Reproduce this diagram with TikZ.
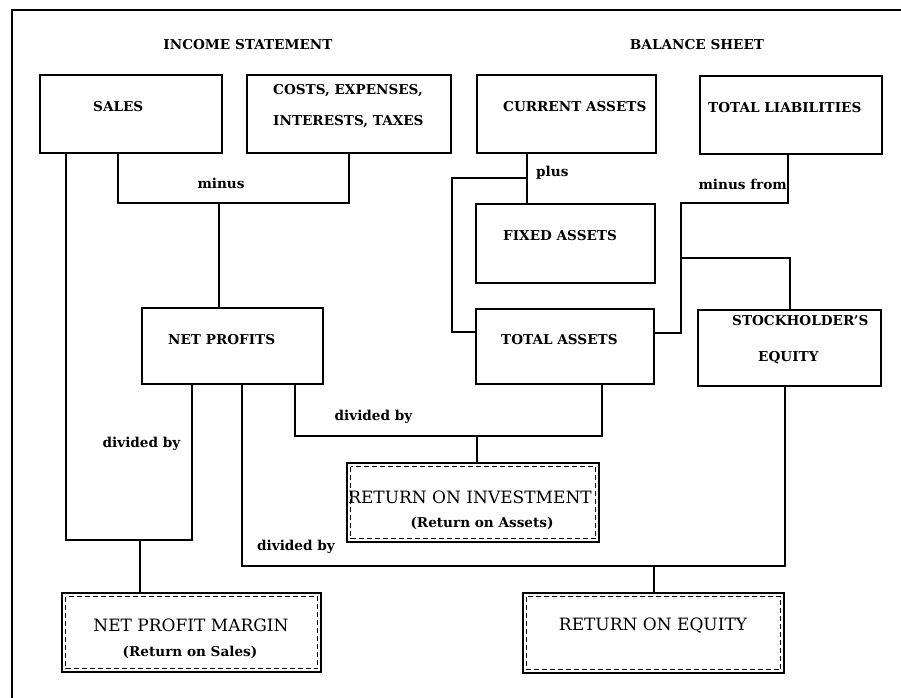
\documentclass[tikz,border=0pt]{standalone}
\usepackage{fontspec}
\setmainfont{DejaVu Serif}
\usetikzlibrary{positioning}

\begin{document}
\begin{tikzpicture}[x=1pt, y=-1pt,
        box/.style={draw, line width=1.5pt, inner sep=0pt},
        result/.style={draw, line width=2.5pt, inner sep=0pt, path picture={\draw[line width=1.2pt, dash pattern=on 5pt off 3pt] ([shift={(3.5pt,-3.5pt)}]path picture bounding box.north west) rectangle ([shift={(-3.5pt,3.5pt)}]path picture bounding box.south east);}},
        lbl/.style={inner sep=0pt, font=\bfseries\fontsize{13.6}{16}\selectfont},
        title/.style={inner sep=0pt, font=\fontsize{17}{19}\selectfont},
        conn/.style={line width=2pt}
    ]
    \useasboundingbox (0,0) rectangle (901,697);
    \clip (0,0) rectangle (901,697);
    \draw[line width=2.5pt] (12,710) |- (915,10);

    % headings
    \node[lbl] (incomeT) at (248,45) {INCOME STATEMENT};
    \node[lbl] (balanceT) at (697,45) {BALANCE SHEET};

    % income statement
    \node[box, minimum width=182, minimum height=78] (sales) at (131,114) {};
    \node[box, minimum width=204, minimum height=78] (costs) at (349,114) {};
    \node[box, minimum width=181, minimum height=76] (np) at (232.5,346) {};
    \node[lbl, anchor=west] (salesT) at (93,107) {SALES};
    \node[lbl, anchor=west] (costsT) at (273,91) {COSTS, EXPENSES,};
    \node[lbl, anchor=west] (costsT2) at (273,122) {INTERESTS, TAXES};
    \node[lbl, anchor=west] (npT) at (168,340) {NET PROFITS};

    % balance sheet
    \node[box, minimum width=179, minimum height=78] (curA) at (566.5,114) {};
    \node[box, minimum width=182, minimum height=78] (totL) at (791,115) {};
    \node[box, minimum width=179, minimum height=79] (fixA) at (565.5,243.5) {};
    \node[box, minimum width=178, minimum height=75] (totA) at (565,346.5) {};
    \node[box, minimum width=183, minimum height=76] (equity) at (789.5,348) {};
    \node[lbl, anchor=west] (curAT) at (503,107) {CURRENT ASSETS};
    \node[lbl, anchor=west] (totLT) at (708,107.5) {TOTAL LIABILITIES};
    \node[lbl, anchor=west] (fixAT) at (503,235.5) {FIXED ASSETS};
    \node[lbl, anchor=west] (totAT) at (501,340) {TOTAL ASSETS};
    \node[lbl, anchor=west] (equityT) at (732,321) {STOCKHOLDER'S};
    \node[lbl, anchor=west] (equityT2) at (758,357.5) {EQUITY};

    % ratios
    \node[result, minimum width=252, minimum height=79] (roi) at (473,502.5) {};
    \node[result, minimum width=259, minimum height=79] (npm) at (191.5,632.5) {};
    \node[result, minimum width=261, minimum height=80] (roe) at (653.5,633) {};
    \node[title] (roiT) at (470,497) {RETURN ON INVESTMENT};
    \node[lbl] (roiT2) at (482,523) {(Return on Assets)};
    \node[title] (npmT) at (191,625) {NET PROFIT MARGIN};
    \node[lbl] (npmT2) at (190,652) {(Return on Sales)};
    \node[title] (roeT) at (653,626) {RETURN ON EQUITY};

    % joints
    \coordinate (minusJ) at (219,203);
    \coordinate (plusJ) at (527,178);
    \coordinate (plusL) at (452,332);
    \coordinate (mfTop) at (681,203);
    \coordinate (mfJ) at (681,258);
    \coordinate (mfBot) at (681,333);
    \coordinate (npmJ) at (140,540);
    \coordinate (roiJ) at (477,436);
    \coordinate (roeJ) at (653.5,566);

    \draw[conn] ([xshift=-13]sales.south) |- (minusJ) -| (costs.south);
    \draw[conn] (minusJ) -- (np.north -| minusJ);
    \node[lbl] (minusL) at (221,183) {minus};

    \draw[conn] (curA.south -| plusJ) -- (fixA.north -| plusJ);
    \draw[conn] (plusJ) -| (plusL) -- (totA.west |- plusL);
    \node[lbl, anchor=west] (plusLb) at (536,173) {plus};

    \draw[conn] ([xshift=-3]totL.south) |- (mfTop) -- (mfBot) -- (totA.east |- mfBot);
    \draw[conn] (mfJ) -| (equity.north);
    \node[lbl, anchor=east] (mfL) at (787,184) {minus from};

    \draw[conn] ([xshift=-65]sales.south) |- (npmJ) -| ([xshift=-40.5]np.south);
    \draw[conn] (npmJ) -- (npm.north -| npmJ);
    \node[lbl] (divL1) at (141.5,444) {divided by};

    \draw[conn] ([xshift=62.5]np.south) |- (roiJ) -| ([xshift=37]totA.south);
    \draw[conn] (roiJ) -- (roi.north -| roiJ);
    \node[lbl] (divL2) at (373.5,417) {divided by};

    \draw[conn] ([xshift=9.5]np.south) |- (roeJ) -| ([xshift=-4.5]equity.south);
    \draw[conn] (roeJ) -- (roe.north);
    \node[lbl] (divL3) at (296,547) {divided by};
\end{tikzpicture}
\end{document}
